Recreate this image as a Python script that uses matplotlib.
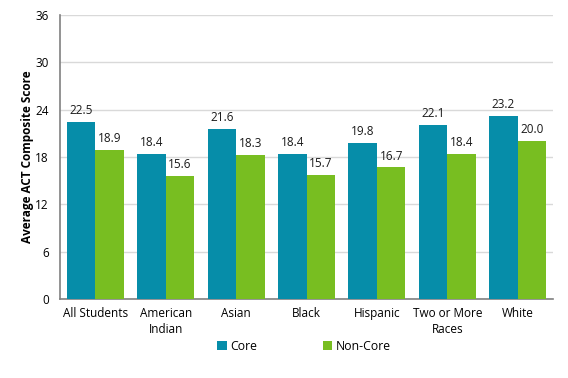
import matplotlib
matplotlib.use("Agg")
import matplotlib.pyplot as plt
import numpy as np

categories = ["All Students", "American\nIndian", "Asian", "Black", "Hispanic", "Two or More\nRaces", "White"]
core = [22.5, 18.4, 21.6, 18.4, 19.8, 22.1, 23.2]
non_core = [18.9, 15.6, 18.3, 15.7, 16.7, 18.4, 20.0]
yticks = [0, 6, 12, 18, 24, 30, 36]

plt.rcParams['font.family'] = ['Open Sans', 'DejaVu Sans']

fig = plt.figure(figsize=(5.68, 3.78), dpi=100)
W, H = 568, 378
ax = fig.add_axes([60 / W, 1 - 299 / H, (553 - 60) / W, (299 - 15) / H])

x = np.arange(len(categories))
bw = 0.405
c_core = "#068DA9"
c_non = "#78BE21"
b1 = ax.bar(x - bw / 2, core, bw, color=c_core, label="Core", zorder=3)
b2 = ax.bar(x + bw / 2, non_core, bw, color=c_non, label="Non-Core", zorder=3)

for rect, v in zip(b1, core):
    ax.text(rect.get_x() + rect.get_width() / 2, v + 0.6, f"{v:.1f}", ha="center", va="bottom", fontsize=8.5, color="#1a1a1a")
for rect, v in zip(b2, non_core):
    ax.text(rect.get_x() + rect.get_width() / 2, v + 0.6, f"{v:.1f}", ha="center", va="bottom", fontsize=8.5, color="#1a1a1a")

ax.set_xlim(-0.5, len(categories) - 0.5)
ax.set_ylim(0, 36)
ax.set_yticks(yticks)
ax.set_yticklabels([str(t) for t in yticks], fontsize=8.5)
ax.set_xticks(x)
ax.set_xticklabels(categories, fontsize=8.5, linespacing=1.3)
ax.tick_params(axis="both", length=0, pad=6)
ax.tick_params(axis="y", pad=8)
ax.yaxis.grid(True, color="#D9D9D9", linewidth=1, zorder=0)
ax.set_axisbelow(True)
for s in ["top", "right"]:
    ax.spines[s].set_visible(False)
for s in ["left", "bottom"]:
    ax.spines[s].set_color("#808080")
    ax.spines[s].set_linewidth(1.2)

ax.set_ylabel("Average ACT Composite Score", fontsize=8.5, fontweight="bold", labelpad=1)

fig.legend(loc="center", bbox_to_anchor=(304 / W, 1 - 346 / H), ncol=2, frameon=False,
           fontsize=8.8, handlelength=0.8, handleheight=0.8, handletextpad=0.3, columnspacing=5.35)

fig.savefig("out.png", dpi=100)
